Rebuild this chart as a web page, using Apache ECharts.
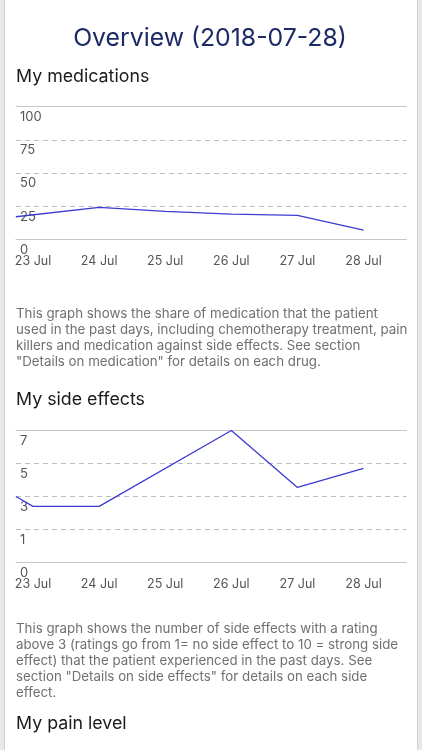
<!DOCTYPE html>
<html>
<head>
<meta charset="utf-8">
<script src="https://cdn.jsdelivr.net/npm/echarts@6/dist/echarts.min.js"></script>
<style>
html,body{margin:0;padding:0;background:#fff;}
#c{width:422px;height:750px;}
</style>
</head>
<body>
<div id="c"></div>
<script>
// x positions are day offsets from 23 Jul (first point sits at the chart's left edge)
const dayLabels = ['23 Jul', '24 Jul', '25 Jul', '26 Jul', '27 Jul', '28 Jul'];
const medDays = [-0.26, 1, 2, 3, 4, 5];
const medValues = [17, 24, 21, 19, 18, 7];
const sideDays = [-0.26, 0, 1, 3, 4, 5];
const sideValues = [4.0, 3.4, 3.4, 8, 4.55, 5.7];
const medTickLabels = ['0', '25', '50', '75', '100'];
const sideTickLabels = ['0', '1', '3', '5', '7'];

const X_MIN = -0.258, X_MAX = 5.65;
const FONT = 'Inter, "Liberation Sans", sans-serif';
const lineColor = '#3b3bd2';
const gridSolid = '#c6c6c6';
const gridDash = '#bdbdbd';

function xAxes(gridIndex) {
  return [{
    type: 'value', gridIndex, min: X_MIN, max: X_MAX, position: 'bottom',
    axisLine: { show: true, lineStyle: { color: gridSolid, width: 1 } },
    axisTick: { show: false },
    splitLine: { show: false },
    axisLabel: {
      customValues: [0, 1, 2, 3, 4, 5],
      formatter: v => dayLabels[Math.round(v)],
      color: '#555', fontSize: 12.5, fontFamily: FONT, margin: 15
    }
  }, {
    type: 'value', gridIndex, min: X_MIN, max: X_MAX, position: 'top',
    axisLine: { show: true, lineStyle: { color: gridSolid, width: 1 } },
    axisTick: { show: false }, axisLabel: { show: false }, splitLine: { show: false }
  }];
}
function yAxis(gridIndex, max, interval, labels) {
  return {
    type: 'value', gridIndex, min: 0, max, interval,
    axisLine: { show: false }, axisTick: { show: false },
    splitLine: { show: true, showMinLine: false, showMaxLine: false,
      lineStyle: { color: gridDash, type: [5, 4], width: 1 } },
    axisLabel: {
      inside: true, margin: 4, verticalAlign: 'top', padding: [4, 0, 0, 0],
      formatter: v => labels[Math.round(v / interval)],
      color: '#555', fontSize: 13, fontFamily: FONT
    }
  };
}

const chart = echarts.init(document.getElementById('c'), null, { renderer: 'canvas' });
chart.setOption({
  animation: false,
  grid: [
    { left: 16, right: 15.5, top: 106.7, height: 132.6 },
    { left: 16, right: 15.5, top: 430.5, height: 132 }
  ],
  xAxis: [...xAxes(0), ...xAxes(1)],
  yAxis: [yAxis(0, 100, 25, medTickLabels), yAxis(1, 8, 2, sideTickLabels)],
  series: [{
    type: 'line', xAxisIndex: 0, yAxisIndex: 0,
    data: medDays.map((d, i) => [d, medValues[i]]),
    showSymbol: false, lineStyle: { color: lineColor, width: 1.3 }, clip: false
  }, {
    type: 'line', xAxisIndex: 2, yAxisIndex: 1,
    data: sideDays.map((d, i) => [d, sideValues[i]]),
    showSymbol: false, lineStyle: { color: lineColor, width: 1.3 }, clip: false
  }],
  graphic: [
    { type: 'rect', shape: { x: 0, y: 0, width: 4, height: 750 }, style: { fill: '#e8e8e8' }, silent: true },
    { type: 'rect', shape: { x: 4, y: 0, width: 1, height: 750 }, style: { fill: '#d2d2d2' }, silent: true },
    { type: 'rect', shape: { x: 417, y: 0, width: 5, height: 750 }, style: { fill: '#e8e8e8' }, silent: true },
    { type: 'rect', shape: { x: 417, y: 0, width: 1, height: 750 }, style: { fill: '#d2d2d2' }, silent: true },
    { type: 'text', x: 210, y: 39, style: { text: 'Overview (2018-07-28)', fill: '#1c2b66',
        font: '24.8px ' + FONT, textAlign: 'center', textVerticalAlign: 'middle' } },
    { type: 'text', x: 16, y: 77, style: { text: 'My medications', fill: '#1a1a1a',
        font: '17.8px ' + FONT, textAlign: 'left', textVerticalAlign: 'middle' } },
    { type: 'text', x: 16, y: 305.5, style: {
        text: 'This graph shows the share of medication that the patient\nused in the past days, including chemotherapy treatment, pain\nkillers and medication against side effects. See section\n"Details on medication" for details on each drug.',
        fill: '#707070', font: '13.3px ' + FONT, lineHeight: 16, textAlign: 'left', textVerticalAlign: 'top' } },
    { type: 'text', x: 16, y: 400, style: { text: 'My side effects', fill: '#1a1a1a',
        font: '17.8px ' + FONT, textAlign: 'left', textVerticalAlign: 'middle' } },
    { type: 'text', x: 16, y: 620.5, style: {
        text: 'This graph shows the number of side effects with a rating\nabove 3 (ratings go from 1= no side effect to 10 = strong side\neffect) that the patient experienced in the past days. See\nsection "Details on side effects" for details on each side\neffect.',
        fill: '#707070', font: '13.3px ' + FONT, lineHeight: 16, textAlign: 'left', textVerticalAlign: 'top' } },
    { type: 'text', x: 16, y: 724, style: { text: 'My pain level', fill: '#1a1a1a',
        font: '17.8px ' + FONT, textAlign: 'left', textVerticalAlign: 'middle' } }
  ]
});
</script>
</body>
</html>
